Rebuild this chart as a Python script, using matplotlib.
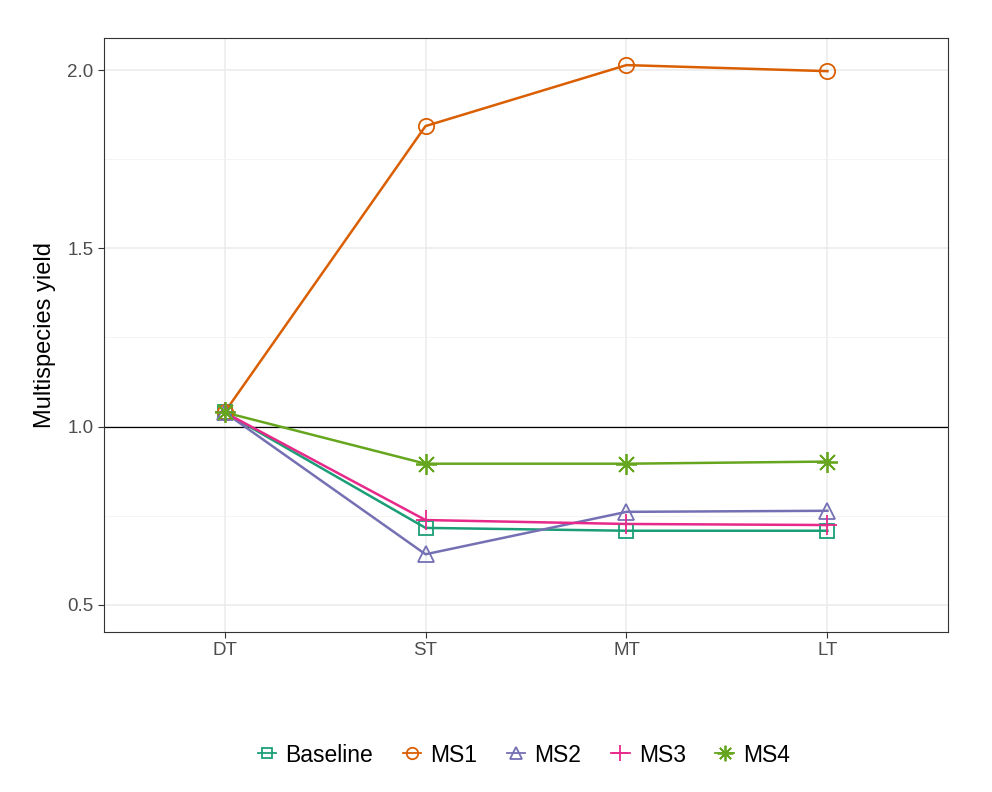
import matplotlib
matplotlib.use("Agg")
import matplotlib.pyplot as plt
from matplotlib.lines import Line2D
from matplotlib.ticker import MultipleLocator

periods = ["DT", "ST", "MT", "LT"]
series_names = ["Baseline", "MS1", "MS2", "MS3", "MS4"]
baseline = [1.04, 0.716, 0.708, 0.708]
ms1 = [1.04, 1.843, 2.014, 1.997]
ms2 = [1.04, 0.642, 0.761, 0.764]
ms3 = [1.04, 0.738, 0.727, 0.724]
ms4 = [1.04, 0.896, 0.896, 0.902]

colors = ["#1B9E77", "#D95F02", "#7570B3", "#E7298A", "#66A61E"]
markers = ["s", "o", "^", "+", (8, 2, 0)]
msizes = [10, 11, 12, 15, 15]

plt.rcParams['font.family'] = ['Liberation Sans', 'DejaVu Sans']

fig = plt.figure(figsize=(9.92, 7.92), dpi=100)
ax = fig.add_axes([104 / 992, 160 / 792, 844 / 992, 594 / 792])

x = list(range(len(periods)))
ax.axhline(1.0, color="black", linewidth=0.9, zorder=2)

handles = []
for name, vals, col, mk, ms in zip(series_names, [baseline, ms1, ms2, ms3, ms4], colors, markers, msizes):
    ax.plot(x, vals, color=col, linewidth=1.8, zorder=3)
    ax.plot(x, vals, linestyle="none", marker=mk, markersize=ms,
            markerfacecolor="none", markeredgecolor=col, markeredgewidth=1.3, zorder=4)
    handles.append(Line2D([], [], color=col, linewidth=1.3, marker=mk,
                          markersize=ms * 0.75, markerfacecolor="none",
                          markeredgecolor=col, markeredgewidth=1.3, label=name))

ax.set_xlim(-0.6, 3.6)
ax.set_ylim(0.424, 2.09)
ax.set_xticks(x)
ax.set_xticklabels(periods)
ax.yaxis.set_major_locator(MultipleLocator(0.5))
ax.yaxis.set_minor_locator(MultipleLocator(0.25))
ax.yaxis.set_major_formatter(matplotlib.ticker.FormatStrFormatter("%.1f"))

ax.grid(which="major", color="#EBEBEB", linewidth=1.1, zorder=0)
ax.grid(which="minor", axis="y", color="#F2F2F2", linewidth=0.6, zorder=0)
ax.set_axisbelow(True)
ax.tick_params(which="minor", length=0)
ax.tick_params(which="major", length=4, color="#333333", labelsize=13.5, labelcolor="#4D4D4D")
for sp in ax.spines.values():
    sp.set_color("#333333")
    sp.set_linewidth(0.8)

ax.set_ylabel("Multispecies yield", fontsize=17, labelpad=8)

fig.legend(handles=handles, loc="center", bbox_to_anchor=(0.528, 1 - 755 / 792), ncol=5,
           frameon=False, fontsize=16.5, handlelength=0.8, handletextpad=0.4, columnspacing=1.3)

fig.savefig("out.png", dpi=100)
